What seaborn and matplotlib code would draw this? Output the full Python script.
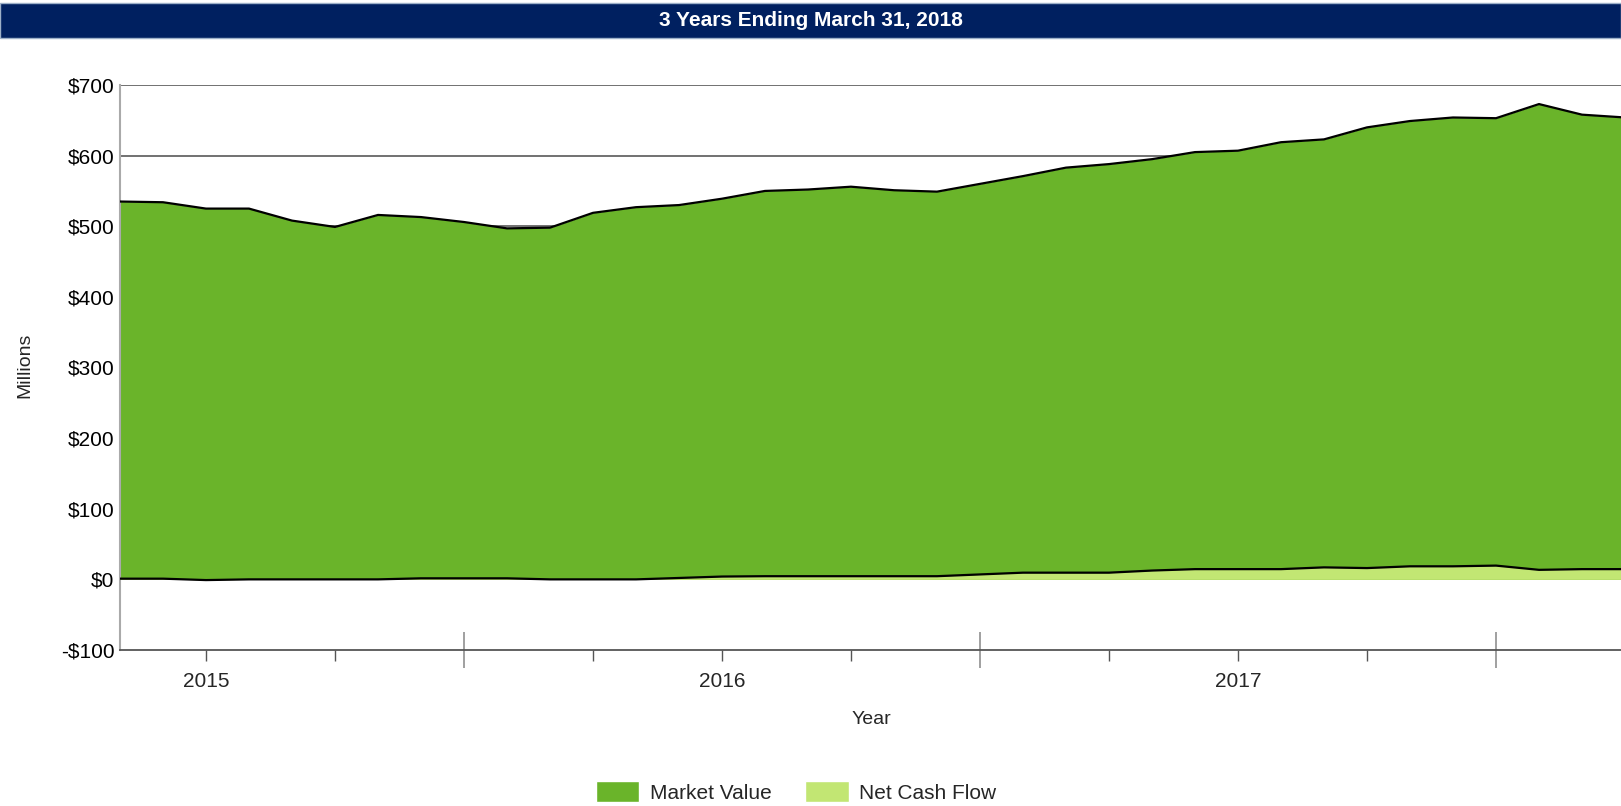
import numpy as np
import matplotlib
matplotlib.use("Agg")
import matplotlib.pyplot as plt
from matplotlib.patches import Patch, Rectangle
import seaborn as sns
import pandas as pd

# month index 0..35 (Apr 2015 - Mar 2018), values in $ millions
months = list(range(36))
market_value = [535, 534, 525, 525, 508, 499, 516, 513, 506, 497, 498, 519,
                527, 530, 539, 550, 552, 556, 551, 549, 560, 571, 583, 588,
                595, 605, 607, 619, 623, 640, 649, 654, 653, 673, 658, 654]
net_cash_flow = [1, 1, -1, 0, 0, 0, 0, 1.5, 1.5, 1.5, 0, 0,
                 0, 2, 4, 4.5, 4.5, 4.5, 4.5, 4.5, 7, 9.5, 9.5, 9.5,
                 12.5, 14.5, 14.5, 14.5, 17, 16, 18.5, 18.5, 19.5, 13.5, 14.5, 14.5]
year_ticks = [2, 5, 8, 11, 14, 17, 20, 23, 26, 29, 32]
year_labels = {2: "2015", 14: "2016", 26: "2017"}
y_ticks = list(range(-100, 701, 100))

df = pd.DataFrame({"month": months, "mv": market_value, "ncf": net_cash_flow})

sns.set_style("white")
plt.rcParams["font.family"] = ["Liberation Sans", "DejaVu Sans"]

MV_COLOR = "#6AB42A"
NCF_COLOR = "#C2E673"

fig = plt.figure(figsize=(16.21, 8.06), dpi=100)
ax = fig.add_axes([120 / 1621, 156 / 806, (1625 - 120) / 1621, 565 / 806])

# gridlines under the areas
for v in y_ticks[1:]:
    ax.axhline(v, color="#666666", lw=1.3, zorder=1)

ax.fill_between(df["month"], 0, df["mv"], color=MV_COLOR, lw=0, zorder=2)
ax.fill_between(df["month"], 0, df["ncf"], color=NCF_COLOR, lw=0, zorder=3)
sns.lineplot(data=df, x="month", y="mv", color="black", lw=1.6, ax=ax, zorder=4)
sns.lineplot(data=df, x="month", y="ncf", color="black", lw=1.6, ax=ax, zorder=4)

ax.set_xlim(0, 35)
ax.set_ylim(-100, 700)
ax.set_yticks(y_ticks)
ax.set_yticklabels([f"-${-v}" if v < 0 else f"${v}" for v in y_ticks])
ax.tick_params(axis="y", length=0, pad=4, labelsize=15, labelcolor="black")

major = [t for t in year_ticks if t in (8, 20, 32)]
minor = [t for t in year_ticks if t not in major]
ax.set_xticks(major)
ax.set_xticklabels([""] * len(major))
ax.set_xticks(minor, minor=True)
ax.set_xticklabels([year_labels.get(t, "") for t in minor], minor=True)
ax.tick_params(axis="x", which="major", direction="inout", length=26, width=1.3,
               color="#999999", bottom=True)
ax.tick_params(axis="x", which="minor", direction="out", length=8, width=1,
               color="#555555", labelsize=15, pad=8, bottom=True)
ax.xaxis.get_major_ticks()[-1].tick1line.set_color("#555555")

ax.set_xlabel("")
ax.set_ylabel("")
for s in ["top", "right"]:
    ax.spines[s].set_visible(False)
ax.spines["left"].set_color("#aaaaaa")
ax.spines["left"].set_linewidth(1.5)
ax.spines["bottom"].set_color("#555555")
ax.spines["bottom"].set_linewidth(1.3)

fig.text(25 / 1621, (806 - 365) / 806, "Millions", rotation=90, ha="center",
         va="center", fontsize=14)
fig.text(871 / 1621, (806 - 720) / 806, "Year", ha="center", va="center", fontsize=14)

# title bar
fig.patches.append(Rectangle((0, (806 - 38) / 806), 1, 35 / 806, transform=fig.transFigure,
                             facecolor="#002060", edgecolor="#9db0c8", lw=1, zorder=0))
fig.text(0.5, (806 - 20.5) / 806, "3 Years Ending March 31, 2018", color="white",
         fontweight="bold", fontsize=15, ha="center", va="center")

handles = [Patch(facecolor=MV_COLOR, label="Market Value"),
           Patch(facecolor=NCF_COLOR, label="Net Cash Flow")]
fig.legend(handles=handles, loc="center", bbox_to_anchor=(796 / 1621, 14 / 806), ncol=2,
           frameon=False, fontsize=15, handlelength=2.1, handleheight=1.13,
           handletextpad=0.5, columnspacing=1.6, borderaxespad=0, borderpad=0)

fig.savefig("out.png", dpi=100)
